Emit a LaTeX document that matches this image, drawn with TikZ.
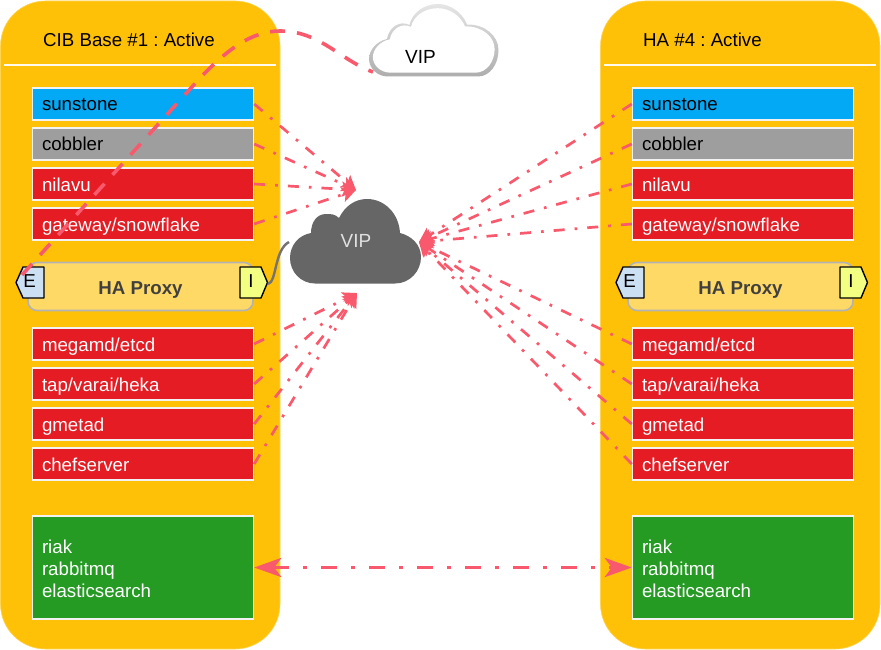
\documentclass[tikz,border=0pt]{standalone}
\usepackage{fontspec}
\setmainfont{Liberation Sans}
\usetikzlibrary{arrows.meta}
\frenchspacing
\definecolor{panelc}{HTML}{FFC107}
\definecolor{skyc}{HTML}{03A9F4}
\definecolor{greyc}{HTML}{9E9E9E}
\definecolor{redc}{HTML}{E51C23}
\definecolor{greenc}{HTML}{259B24}
\definecolor{linkc}{HTML}{F8596C}
\definecolor{haf}{HTML}{FFD966}
\definecolor{hab}{HTML}{B3B3B3}
\definecolor{eportc}{HTML}{CCE0F4}
\definecolor{iportc}{HTML}{F2FF80}
\definecolor{cloudc}{HTML}{666666}
\tikzset{
  panelbox/.style={fill=panelc,draw=panelc!70!white,line width=0.6pt,rounded corners=45pt},
  headline/.style={draw=white!92!panelc,line width=1.2pt},
  headtext/.style={anchor=west,inner sep=0pt,text height=15pt,text depth=1pt,font=\fontsize{18.7}{22}\selectfont,text=black},
  svcbase/.style={draw=white!95!black,line width=1.4pt,minimum width=220pt,minimum height=32pt,
    text width=202pt,inner xsep=9.5pt,inner ysep=0pt,align=left,font=\fontsize{18.7}{22}\selectfont},
  svcbox/.style={svcbase,text height=15pt,text depth=1pt},
  sky/.style={svcbox,fill=skyc,text=black},
  grey/.style={svcbox,fill=greyc,text=black},
  redbox/.style={svcbox,fill=redc,text=white},
  greenbox/.style={svcbase,fill=greenc,text=white,minimum height=103pt},
  haproxy/.style={fill=haf,draw=hab,line width=1.6pt,rounded corners=9pt,minimum width=225pt,minimum height=48pt,
    inner sep=0pt,text height=15pt,text depth=0pt,font=\bfseries\fontsize{18.7}{22}\selectfont,text=black!75},
  portshape/.style={draw=black,line width=1.4pt,line join=round},
  porttext/.style={inner sep=0pt,minimum width=20pt,minimum height=24pt,text height=13pt,text depth=0pt,font=\fontsize{18.7}{22}\selectfont,text=black},
  link/.style={draw=linkc,line width=2.7pt,dash pattern=on 11pt off 10pt on 2.7pt off 10pt,
    -{Stealth[length=14pt,width=15pt,inset=3pt]}},
  biglink/.style={draw=linkc,line width=3.8pt,dash pattern=on 16pt off 14pt on 4pt off 14pt,
    {Stealth[length=27pt,width=19pt,inset=7pt]}-{Stealth[length=27pt,width=19pt,inset=7pt]}},
  viplink/.style={draw=linkc,line width=3.6pt,dash pattern=on 15pt off 12pt},
  greylink/.style={draw=black!55,line width=2.4pt},
  cloudtext/.style={inner sep=0pt,font=\fontsize{19}{22}\selectfont},
}
\newcommand{\hostpanel}[3]{%
  \begin{scope}[xshift=#2pt]
    \path[panelbox] (0.5,1) rectangle (280,649);
    \draw[headline] (4,65) -- (276,65);
    \node[headtext] (#1-title) at (43,39.5) {#3};
    \node[sky] (#1-sun) at (143,104) {sunstone};
    \node[grey] (#1-cob) at (143,144) {cobbler};
    \node[redbox] (#1-nil) at (143,184) {nilavu};
    \node[redbox] (#1-gat) at (143,224) {gateway/snowflake};
    \node[haproxy] (#1-ha) at (140.5,286.5) {HA Proxy};
    \draw[portshape,fill=eportc] (16,282.5) -- (23,267) -- (44,267) -- (44,298) -- (23,298) -- cycle;
    \draw[portshape,fill=iportc] (240,267) -- (261,267) -- (267.5,282.5) -- (261,298) -- (240,298) -- cycle;
    \node[porttext] (#1-e) at (29.5,281) {E};
    \node[porttext] (#1-i) at (251,281) {I};
    \coordinate (#1-eport) at (22,275);
    \coordinate (#1-iport) at (268,284);
    \node[redbox] (#1-meg) at (143,344) {megamd/etcd};
    \node[redbox] (#1-tap) at (143,384) {tap/varai/heka};
    \node[redbox] (#1-gme) at (143,424) {gmetad};
    \node[redbox] (#1-che) at (143,464) {chefserver};
    \node[greenbox] (#1-db) at (143,567.5) {\rule{0pt}{16.5pt}riak\\rabbitmq\\elasticsearch};
  \end{scope}}
\begin{document}
\begin{tikzpicture}[x=1pt,y=-1pt]
  \useasboundingbox (0,0) rectangle (881,650);
  \hostpanel{L}{0}{CIB Base \#1 : Active}
  \hostpanel{R}{600}{HA \#4 : Active}

  % white cloud
  \def\outercloud{(388,76.5) -- (478,76.5) .. controls (490,76.5) and (498.5,64) .. (498.5,50) .. controls (498.5,36) and (485,24) .. (467,24.5) .. controls (462,12) and (450,4) .. (438,4) .. controls (424,4) and (412,13) .. (409.5,25) .. controls (400,20) and (389,27) .. (387,39) .. controls (377,41) and (369,50) .. (369,59) .. controls (369,68) and (377,76.5) .. (388,76.5) -- cycle}
  \shade[top color=black!10,bottom color=black!32] \outercloud;
  \begin{scope}[shift={(434,42)},xscale=0.94,yscale=0.89,shift={(-434,-42)}]
    \fill[white] \outercloud;
  \end{scope}
  \node[cloudtext,text=black] (vipw) at (420.5,57) {VIP};
  \coordinate (vipwport) at (373,72);

  % grey cloud
  \fill[cloudc] (315,283.5) -- (395,283.5) .. controls (410,283.5) and (421,271) .. (421,257) .. controls (421,245) and (412,236) .. (400,233) .. controls (399,214) and (385,199) .. (367,199) .. controls (355,199) and (345,206) .. (339,218) .. controls (335,214) and (331,214) .. (326,214) .. controls (317,214) and (311,222) .. (311,233) .. controls (299,235) and (290,245) .. (290,258) .. controls (290,272) and (301,283.5) .. (315,283.5) -- cycle;
  \node[cloudtext,text=black!12] (vipg) at (356,241) {VIP};
  \coordinate (vipgport) at (289,242);
  \coordinate (tipa) at (356,190);
  \coordinate (tipb) at (357,293);
  \coordinate (tipc) at (419,242);

  \draw[greylink] (L-iport) .. controls (277,282) and (274,250) .. (vipgport);

  \foreach \n in {sun,cob,nil,gat} \draw[link] (L-\n.east) -- (tipa);
  \foreach \n in {meg,tap,gme,che} \draw[link] (L-\n.east) -- (tipb);
  \foreach \n in {sun,cob,nil,gat,meg,tap,gme,che} \draw[link] (R-\n.west) -- (tipc);
  \draw[biglink] (L-db.east) -- (R-db.west);
  \draw[viplink] (L-eport) -- (200,78) .. controls (225,52) and (250,31) .. (280,31) .. controls (320,31) and (340,60) .. (vipwport);
\end{tikzpicture}
\end{document}
